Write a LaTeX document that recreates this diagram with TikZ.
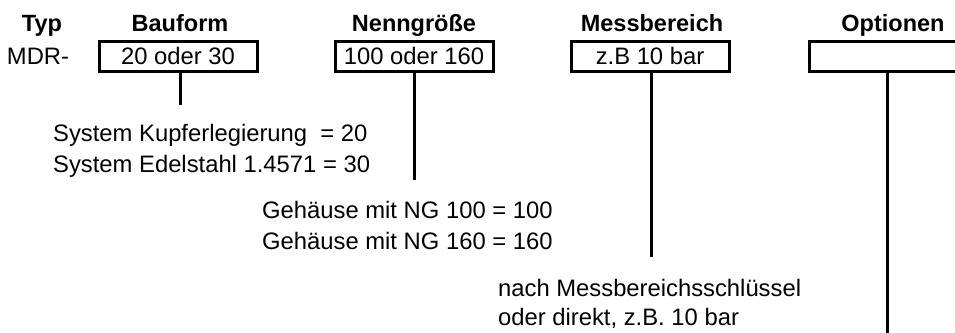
\documentclass[tikz,border=0pt]{standalone}
\usepackage{fontspec}
\setmainfont{Liberation Sans}
\begin{document}
\begin{tikzpicture}[x=1pt,y=-1pt,
  lbl/.style={font=\fontsize{23.8}{30}\selectfont, inner sep=0pt},
  hdr/.style={font=\fontsize{23.5}{30}\selectfont\bfseries, inner sep=0pt, anchor=base},
  codebox/.style={draw, line width=3pt, minimum width=158pt, minimum height=30pt, inner sep=0pt, font=\fontsize{23.8}{30}\selectfont},
  conn/.style={line width=3pt},
  note/.style={font=\fontsize{23.8}{30}\selectfont, inner sep=0pt, anchor=base west, align=left}]
\useasboundingbox (0,0) rectangle (955,332);
\clip (0,0) rectangle (955,332);
% headers
\node[hdr] (hTyp) at (42,31) {Typ};
\node[hdr] (hBau) at (180,31) {Bauform};
\node[hdr] (hNG) at (414,31) {Nenngröße};
\node[hdr] (hMB) at (652,31) {Messbereich};
\node[hdr] (hOpt) at (893,31) {Optionen};
% type
\node[lbl, anchor=base] (mdr) at (38,64) {MDR-};
% boxes
\node[codebox] (b1) at (178,56) {20 oder 30};
\node[codebox] (b2) at (414,56) {100 oder 160};
\node[codebox] (b3) at (650,56) {z.B 10 bar};
\node[codebox, minimum width=190pt, anchor=west] (b4) at (808,56) {};
% connector ends
\coordinate (e1) at (180,105);
\coordinate (e2) at (414,180);
\coordinate (e3) at (651,257);
\coordinate (e4) at (887,334);
\draw[conn] (b1.south -| e1) -- (e1);
\draw[conn] (b2.south -| e2) -- (e2);
\draw[conn] (b3.south -| e3) -- (e3);
\draw[conn] (b4.south -| e4) -- (e4);
% notes
\node[note] (n1) at (53,141) {System Kupferlegierung \ = 20};
\node[note] (n2) at (53,172) {System Edelstahl 1.4571 = 30};
\node[note] (n3) at (262,218) {Gehäuse mit NG 100 = 100};
\node[note] (n4) at (262,249) {Gehäuse mit NG 160 = 160};
\node[note] (n5) at (498,296) {nach Messbereichsschlüssel};
\node[note] (n6) at (498,325) {oder direkt, z.B. 10 bar};
\end{tikzpicture}
\end{document}
